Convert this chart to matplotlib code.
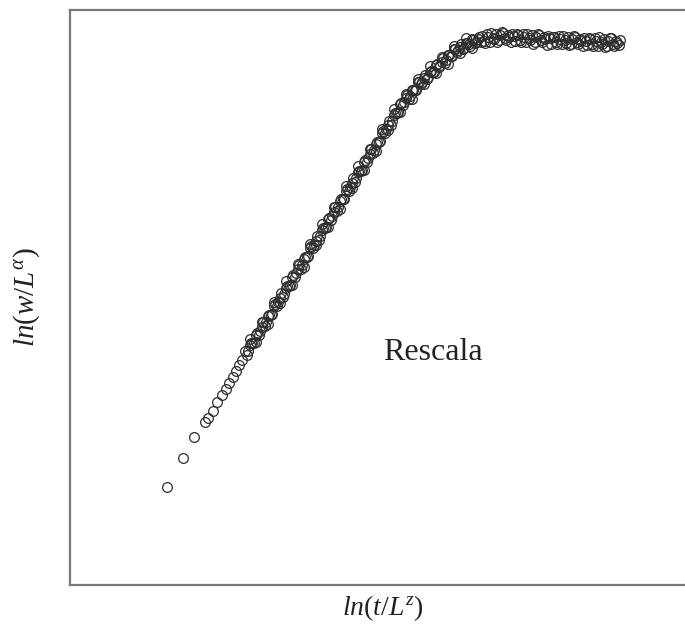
import matplotlib
matplotlib.use("Agg")
import matplotlib.pyplot as plt

plt.rcParams['mathtext.fontset'] = 'custom'
plt.rcParams['mathtext.rm'] = 'Liberation Serif'
plt.rcParams['mathtext.it'] = 'Liberation Serif:italic'

# Early-time points (sparse at small ln t)
x_early = [-2.93, -2.77, -2.66, -2.55, -2.52, -2.47, -2.43, -2.38, -2.34,
           -2.31, -2.27, -2.24, -2.21, -2.18]
y_early = [-4.45, -4.16, -3.95, -3.80, -3.76, -3.69, -3.60, -3.53, -3.47,
           -3.41, -3.35, -3.29, -3.23, -3.18]

# Growth regime, first system size
x_growth_a = [-2.15, -2.12, -2.09, -2.06, -2.03, -2.00, -1.97, -1.94, -1.91, -1.88,
              -1.85, -1.82, -1.79, -1.76, -1.73, -1.70, -1.67, -1.64, -1.61, -1.58,
              -1.55, -1.52, -1.49, -1.46, -1.43, -1.40, -1.37, -1.34, -1.31, -1.28,
              -1.25, -1.22, -1.19, -1.16, -1.13, -1.10, -1.07, -1.04, -1.01, -0.98,
              -0.95, -0.92, -0.89, -0.86, -0.83, -0.80, -0.77, -0.74, -0.71, -0.68,
              -0.65, -0.62, -0.59, -0.56, -0.53, -0.50, -0.47, -0.44, -0.41, -0.38,
              -0.35, -0.32, -0.29, -0.26, -0.23, -0.20, -0.17, -0.14, -0.11, -0.08,
              -0.05, -0.02, 0.01, 0.04, 0.07, 0.10, 0.13, 0.16, 0.19]
y_growth_a = [-3.09, -3.09, -3.01, -3.01, -2.91, -2.89, -2.80, -2.80, -2.73, -2.72,
              -2.62, -2.60, -2.51, -2.52, -2.44, -2.43, -2.33, -2.31, -2.23, -2.23,
              -2.15, -2.14, -2.04, -2.03, -1.94, -1.94, -1.86, -1.85, -1.76, -1.74,
              -1.65, -1.65, -1.57, -1.57, -1.47, -1.45, -1.36, -1.36, -1.29, -1.28,
              -1.18, -1.16, -1.07, -1.08, -1.00, -0.99, -0.89, -0.87, -0.79, -0.79,
              -0.71, -0.70, -0.61, -0.60, -0.53, -0.54, -0.48, -0.48, -0.40, -0.40,
              -0.33, -0.35, -0.29, -0.30, -0.22, -0.23, -0.16, -0.18, -0.13, -0.14,
              -0.07, -0.08, -0.02, -0.06, -0.01, -0.04, 0.02, 0.00, 0.05]

# Growth regime, second system size
x_growth_b = [-2.135, -2.105, -2.075, -2.045, -2.015, -1.985, -1.955, -1.925, -1.895, -1.865,
              -1.835, -1.805, -1.775, -1.745, -1.715, -1.685, -1.655, -1.625, -1.595, -1.565,
              -1.535, -1.505, -1.475, -1.445, -1.415, -1.385, -1.355, -1.325, -1.295, -1.265,
              -1.235, -1.205, -1.175, -1.145, -1.115, -1.085, -1.055, -1.025, -0.995, -0.965,
              -0.935, -0.905, -0.875, -0.845, -0.815, -0.785, -0.755, -0.725, -0.695, -0.665,
              -0.635, -0.605, -0.575, -0.545, -0.515, -0.485, -0.455, -0.425, -0.395, -0.365,
              -0.335, -0.305, -0.275, -0.245, -0.215, -0.185, -0.155, -0.125, -0.095, -0.065,
              -0.035, -0.005, 0.025, 0.055, 0.085, 0.115, 0.145, 0.175, 0.205]
y_growth_b = [-3.13, -3.03, -3.01, -2.93, -2.93, -2.85, -2.84, -2.74, -2.73, -2.64,
              -2.64, -2.56, -2.55, -2.46, -2.44, -2.35, -2.35, -2.27, -2.27, -2.17,
              -2.15, -2.06, -2.06, -1.99, -1.98, -1.88, -1.86, -1.77, -1.78, -1.70,
              -1.69, -1.59, -1.57, -1.49, -1.49, -1.41, -1.40, -1.30, -1.29, -1.20,
              -1.20, -1.12, -1.11, -1.02, -1.00, -0.91, -0.91, -0.83, -0.83, -0.73,
              -0.71, -0.62, -0.63, -0.56, -0.57, -0.48, -0.48, -0.40, -0.42, -0.36,
              -0.37, -0.30, -0.30, -0.23, -0.25, -0.20, -0.21, -0.13, -0.14, -0.07,
              -0.10, -0.05, -0.07, -0.01, -0.02, 0.03, -0.01, 0.03, 0.00]

# Growth regime, third system size
x_growth_c = [-2.10, -2.04, -1.98, -1.92, -1.86, -1.80, -1.74, -1.68, -1.62, -1.56,
              -1.50, -1.44, -1.38, -1.32, -1.26, -1.20, -1.14, -1.08, -1.02, -0.96,
              -0.90, -0.84, -0.78, -0.72, -0.66, -0.60, -0.54, -0.48, -0.42, -0.36,
              -0.30, -0.24, -0.18, -0.12, -0.06, 0.00, 0.06, 0.12]
y_growth_c = [-2.97, -3.00, -2.80, -2.82, -2.60, -2.61, -2.39, -2.43, -2.22, -2.25,
              -2.02, -2.03, -1.82, -1.85, -1.65, -1.67, -1.44, -1.46, -1.24, -1.28,
              -1.07, -1.09, -0.87, -0.88, -0.67, -0.70, -0.52, -0.57, -0.37, -0.42,
              -0.24, -0.31, -0.15, -0.22, -0.04, -0.11, 0.04, -0.06]

# Saturation regime
x_sat_a = [0.22, 0.25, 0.28, 0.31, 0.34, 0.37, 0.40, 0.43, 0.46, 0.49, 0.52, 0.55,
           0.58, 0.61, 0.64, 0.67, 0.70, 0.73, 0.76, 0.79, 0.82, 0.85, 0.88, 0.91,
           0.94, 0.97, 1.00, 1.03, 1.06, 1.09, 1.12, 1.15, 1.18, 1.21, 1.24, 1.27,
           1.30, 1.33, 1.36, 1.39, 1.42, 1.45, 1.48, 1.51, 1.54, 1.57, 1.60]
y_sat_a = [0.06, -0.01, 0.05, 0.09, 0.03, 0.00, 0.07, 0.09, 0.02, 0.05, 0.08, 0.01,
           0.07, 0.00, 0.05, 0.08, 0.02, -0.02, 0.05, 0.07, 0.00, 0.03, 0.06, -0.02,
           0.05, -0.02, 0.03, 0.06, -0.01, -0.03, 0.03, 0.05, -0.02, 0.01, 0.04, -0.03,
           0.03, -0.04, 0.01, 0.05, -0.02, -0.05, 0.01, 0.04, -0.04, -0.01, 0.02]

x_sat_b = [0.235, 0.265, 0.295, 0.325, 0.355, 0.385, 0.415, 0.445, 0.475, 0.505, 0.535, 0.565,
           0.595, 0.625, 0.655, 0.685, 0.715, 0.745, 0.775, 0.805, 0.835, 0.865, 0.895, 0.925,
           0.955, 0.985, 1.015, 1.045, 1.075, 1.105, 1.135, 1.165, 1.195, 1.225, 1.255, 1.285,
           1.315, 1.345, 1.375, 1.405, 1.435, 1.465, 1.495, 1.525, 1.555, 1.585]
y_sat_b = [0.01, 0.08, 0.00, 0.04, 0.08, 0.02, 0.10, 0.04, 0.07, 0.00, 0.06, 0.08,
           0.02, 0.08, 0.00, 0.04, 0.07, 0.00, 0.08, 0.02, 0.05, -0.03, 0.04, 0.05,
           0.00, 0.06, -0.02, 0.02, 0.05, -0.02, 0.06, 0.00, 0.03, -0.04, 0.01, 0.04,
           -0.02, 0.04, -0.04, 0.00, 0.03, -0.04, 0.04, -0.02, 0.01, -0.03]

W, H = 685, 628
fig = plt.figure(figsize=(W / 100, H / 100), dpi=100)
ax = fig.add_axes([70 / W, (H - 585) / H, 615 / W, 575 / H])

series = [(x_early, y_early), (x_growth_a, y_growth_a), (x_growth_b, y_growth_b),
          (x_growth_c, y_growth_c), (x_sat_a, y_sat_a), (x_sat_b, y_sat_b)]
for xs, ys in series:
    ax.plot(xs, ys, linestyle='none', marker='o', markersize=7,
            markerfacecolor='none', markeredgecolor='#2e2e2e', markeredgewidth=0.9)

ax.set_xlim(-3.90, 2.25)
ax.set_ylim(-5.43, 0.32)
ax.set_xticks([])
ax.set_yticks([])
for side in ('left', 'bottom', 'top'):
    ax.spines[side].set_color('#7a7a7a')
    ax.spines[side].set_linewidth(1.6)
ax.spines['right'].set_visible(False)

ax.text(0.59, 0.405, 'Rescala', transform=ax.transAxes, ha='center', va='center',
        fontsize=23, family='Liberation Serif', color='#222222')

fig.text(383 / W, 1 - 608 / H, r'$ln(t/L^{z})$', ha='center', va='center',
         fontsize=20, color='#222222')
fig.text(27 / W, 1 - 297 / H, r'$ln(w/L^{\alpha})$', ha='center', va='center',
         rotation=90, fontsize=21, color='#222222')

fig.savefig('out.png', dpi=100)
